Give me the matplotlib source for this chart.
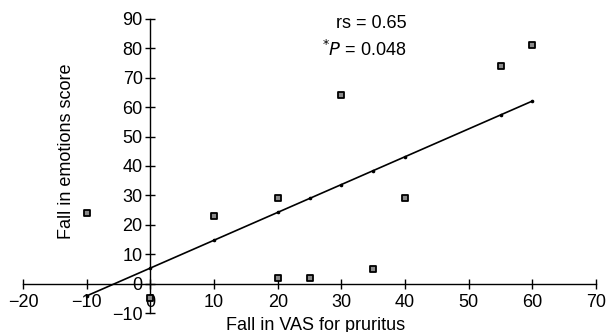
import numpy as np
import matplotlib
matplotlib.use('Agg')
import matplotlib.pyplot as plt

plt.rcParams['font.family'] = ['Liberation Sans', 'DejaVu Sans']

# fall in VAS for pruritus vs fall in emotions score
vas_fall = [-10, 0, 10, 20, 20, 25, 30, 35, 40, 55, 60]
emotions_fall = [24, -5, 23, 29, 2, 2, 64, 5, 29, 74, 81]
x_ticks = [-20, -10, 0, 10, 20, 30, 40, 50, 60, 70]
y_ticks = [-10, 0, 10, 20, 30, 40, 50, 60, 70, 80, 90]

x = np.array(vas_fall, dtype=float)
y = np.array(emotions_fall, dtype=float)
slope, icept = np.polyfit(x, y, 1)
xfit = np.unique(x)
yfit = slope * xfit + icept

fig = plt.figure(figsize=(6.07, 3.32), dpi=100)
ax = fig.add_axes([0.0379, 0.0572, 0.9441, 0.8856])

ax.plot(xfit, yfit, color='black', lw=1.2, marker='o', ms=1.6, zorder=2)
ax.scatter(x, y, marker='s', s=24, facecolor='#8a8a8a', edgecolor='black',
           linewidth=1.3, zorder=3)

ax.set_xlim(-20, 70)
ax.set_ylim(-10, 90)
ax.set_xticks(x_ticks)
ax.set_yticks(y_ticks)

ax.spines['left'].set_position(('data', 0))
ax.spines['bottom'].set_position(('data', 0))
ax.spines['top'].set_visible(False)
ax.spines['right'].set_visible(False)
for s in ('left', 'bottom'):
    ax.spines[s].set_linewidth(1.0)

ax.tick_params(direction='inout', length=7, width=1, labelsize=13)
ax.tick_params(axis='x', pad=4)
ax.tick_params(axis='y', pad=2)

ax.text(-13.1, 45, 'Fall in emotions score', rotation=90, fontsize=13,
        ha='center', va='center')
ax.text(26, -14.1, 'Fall in VAS for pruritus', fontsize=13,
        ha='center', va='center', clip_on=False)

ax.text(40.2, 88.4, 'rs = 0.65', fontsize=13, ha='right', va='center')
ax.text(40.2, 79.6, r'$^{*}$' + '$\\it{P}$' + ' = 0.048', fontsize=13,
        ha='right', va='center')

fig.savefig('out.png', dpi=100)
